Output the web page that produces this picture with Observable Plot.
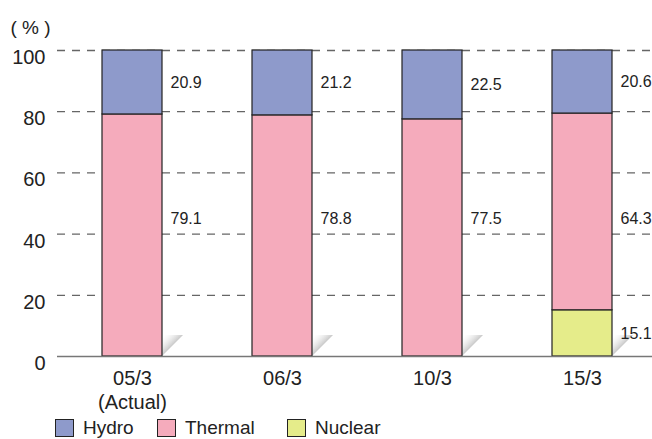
<!DOCTYPE html>
<html><head><meta charset="utf-8">
<script src="https://cdn.jsdelivr.net/npm/d3@7"></script>
<script src="https://cdn.jsdelivr.net/npm/@observablehq/plot@0.6"></script>
<style>
body{margin:0;background:#fff;font-family:"Liberation Sans",Arial,sans-serif;}
#wrap{position:relative;width:652px;height:439px;overflow:hidden;}
.legend{position:absolute;top:417px;left:0;width:652px;height:22px;font-size:19px;color:#222;}
.item{position:absolute;top:0;display:flex;align-items:flex-start;}
.sw{width:19px;height:18px;border:1px solid #222;box-sizing:border-box;margin-top:2px;margin-right:9px;}
.lab{line-height:20px;margin-top:1px;}
</style></head><body><div id="wrap"></div>
<script>
const categories = ["05/3","06/3","10/3","15/3"];
const tickLabels = ["05/3\n(Actual)","06/3","10/3","15/3"];
const sources = ["Nuclear","Thermal","Hydro"];
const hydro = [20.9,21.2,22.5,20.6];
const thermal = [79.1,78.8,77.5,64.3];
const nuclear = [0,0,0,15.1];
const yTicks = [0,20,40,60,80,100];
const legendItems = ["Hydro","Thermal","Nuclear"];
const colors = {Hydro:"#8e9acb", Thermal:"#f5abbc", Nuclear:"#e5ec8a"};

// Build stacked rows
const rows = [];
categories.forEach((c,i)=>{
  const vals = {Nuclear:nuclear[i], Thermal:thermal[i], Hydro:hydro[i]};
  let base = 0;
  for (const s of sources) {
    const v = vals[s];
    if (v > 0) rows.push({cat:c, source:s, value:v, y1:base, y2:base+v});
    base += v;
  }
});
const labels = rows.map(r => ({
  cat: r.cat,
  text: r.value.toFixed(1),
  y: r.source === "Thermal" ? 45 : (r.y1 + r.y2) / 2
}));

const shadow = (index, scales, values, dimensions) => {
  const ns = "http://www.w3.org/2000/svg";
  const g = document.createElementNS(ns, "g");
  const defs = document.createElementNS(ns, "defs");
  defs.innerHTML = '<linearGradient id="shg" x1="0" y1="0" x2="0.55" y2="0.55"><stop offset="0" stop-color="#fff" stop-opacity="0"/><stop offset="1" stop-color="#bdbdbd"/></linearGradient>';
  g.appendChild(defs);
  const x = scales.x, y = scales.y;
  const bw = x.bandwidth ? x.bandwidth() : (scales.scales && scales.scales.x ? scales.scales.x.bandwidth : 0);
  const b = y(0), h = 21;
  for (const c of categories) {
    const r = x(c) + bw;
    const p = document.createElementNS(ns, "polygon");
    p.setAttribute("points", `${r},${b} ${r+h},${b-h} ${r},${b-h}`);
    p.setAttribute("fill", "url(#shg)");
    g.appendChild(p);
  }
  return g;
};

const chart = Plot.plot({
  width: 652,
  height: 416,
  marginLeft: 57,
  marginRight: 0,
  marginTop: 50,
  marginBottom: 60,
  style: {fontFamily: '"Liberation Sans", Arial, sans-serif', color: "#222", background: "#fff"},
  x: {domain: categories, range: [57, 657], paddingInner: 0.6, paddingOuter: 0.3},
  y: {domain: [0, 100]},
  color: {domain: legendItems, range: legendItems.map(s => colors[s])},
  marks: [
    Plot.ruleY(yTicks.filter(d => d > 0), {stroke: "#666", strokeWidth: 1.3, strokeDasharray: "8,7"}),
    shadow,
    Plot.barY(rows, {x: "cat", y1: "y1", y2: "y2", fill: "source", stroke: "#222", strokeWidth: 1.2}),
    Plot.ruleY([0], {stroke: "#777", strokeWidth: 1.6}),
    Plot.text(labels, {x: "cat", y: "y", text: "text", dx: 38, textAnchor: "start", fontSize: 16, fill: "#222"}),
    Plot.axisY(yTicks, {tickSize: 0, tickPadding: 12, dy: 7, fontSize: 20, label: null}),
    Plot.axisX({tickSize: 0, tickPadding: 11, fontSize: 20, lineHeight: 1.2, label: null,
      tickFormat: d => tickLabels[categories.indexOf(d)]}),
    Plot.text(["( % )"], {frameAnchor: "top-left", dx: -47, dy: -30, textAnchor: "start", fontSize: 19, fill: "#222"})
  ]
});
document.getElementById("wrap").appendChild(chart);

const legend = document.createElement("div");
legend.className = "legend";
const lefts = [55, 157, 287];
legendItems.forEach((s,i)=>{
  const it = document.createElement("div");
  it.className = "item";
  it.style.left = lefts[i] + "px";
  it.innerHTML = `<div class="sw" style="background:${colors[s]}"></div><div class="lab">${s}</div>`;
  legend.appendChild(it);
});
document.getElementById("wrap").appendChild(legend);
</script>
</body></html>
